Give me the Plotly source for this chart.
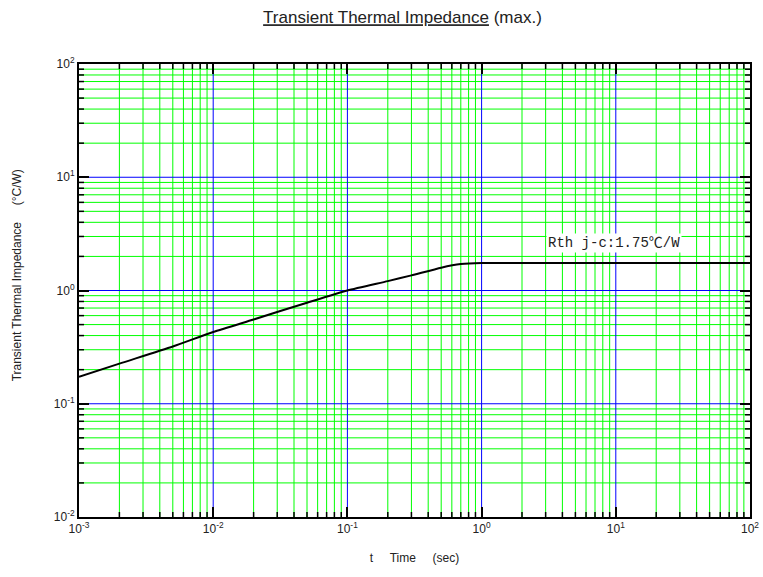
import plotly.graph_objects as go

# Data
t_sec = [0.001, 0.002, 0.005, 0.01, 0.02, 0.05, 0.1, 0.2, 0.3, 0.5, 0.7, 1.0, 2.0, 10.0, 100.0]
zth = [0.173, 0.226, 0.32, 0.43, 0.555, 0.78, 1.0, 1.21, 1.36, 1.59, 1.71, 1.75, 1.75, 1.75, 1.75]

x_tickvals = [1e-3, 1e-2, 1e-1, 1e0, 1e1, 1e2]
x_ticktext = ["10<sup>-3</sup>", "10<sup>-2</sup>", "10<sup>-1</sup>", "10<sup>0</sup>", "10<sup>1</sup>", "10<sup>2</sup>"]
y_tickvals = [1e-2, 1e-1, 1e0, 1e1, 1e2]
y_ticktext = ["10<sup>-2</sup>", "10<sup>-1</sup>", "10<sup>0</sup>", "10<sup>1</sup>", "10<sup>2</sup>"]
minor_mults = [2, 3, 4, 5, 6, 7, 8, 9]
x_minor = [m * d for d in x_tickvals[:-1] for m in minor_mults]
y_minor = [m * d for d in y_tickvals[:-1] for m in minor_mults]

NB = "\u00a0"
title_text = "<u>Transient Thermal Impedance</u> (max.)"
x_title = "t" + NB * 5 + "Time" + NB * 5 + "(sec)"
y_title = "Transient Thermal Impedance" + NB * 5 + "(°C/W)"
rth_label = "Rth j-c:1.75℃/W"

FONT = "Liberation Sans, Arial, sans-serif"
GREEN = "#00ff00"
BLUE = "#0000ff"

fig = go.Figure()
fig.add_trace(go.Scatter(x=t_sec, y=zth, mode="lines",
                         line=dict(color="black", width=2, shape="spline", smoothing=0.6),
                         showlegend=False, hoverinfo="skip"))

base = dict(type="log", automargin=False, zeroline=False, showgrid=False, showline=True,
            linecolor="black", linewidth=2, mirror="ticks", tickcolor="black",
            ticks="inside", ticklen=10, tickwidth=2,
            tickfont=dict(family=FONT, size=12, color="#222"))

fig.update_xaxes(**base, range=[-3, 2], tickmode="array", tickvals=x_tickvals, ticktext=x_ticktext,
                 title=dict(text=x_title, standoff=18, font=dict(family=FONT, size=12, color="#222")))
fig.update_yaxes(**base, range=[-2, 2], tickmode="array", tickvals=y_tickvals, ticktext=y_ticktext)

# y-axis title (placed as rotated text, as in the reference, slightly above the plot centre)
fig.add_annotation(text=y_title, textangle=-90, xref="paper", yref="paper",
                   x=-0.092, y=0.534, xanchor="center", yanchor="middle", showarrow=False,
                   font=dict(family=FONT, size=12, color="#222"))

# grid lines (through the axes' scales), minor = green, decades = blue
for v in x_minor:
    fig.add_shape(type="line", xref="x", yref="paper", x0=v, x1=v, y0=0, y1=1,
                  line=dict(color=GREEN, width=1), layer="below")
for v in y_minor:
    fig.add_shape(type="line", xref="paper", yref="y", x0=0, x1=1, y0=v, y1=v,
                  line=dict(color=GREEN, width=1), layer="below")
for v in x_tickvals[1:-1]:
    fig.add_shape(type="line", xref="x", yref="paper", x0=v, x1=v, y0=0, y1=1,
                  line=dict(color=BLUE, width=1), layer="below")
for v in y_tickvals[1:-1]:
    fig.add_shape(type="line", xref="paper", yref="y", x0=0, x1=1, y0=v, y1=v,
                  line=dict(color=BLUE, width=1), layer="below")

# minor tick marks, inside, on all four sides
for v in x_minor:
    for anchor, d in ((0, 5), (1, -5)):
        fig.add_shape(type="line", xref="x", yref="paper", ysizemode="pixel", yanchor=anchor,
                      x0=v, x1=v, y0=0, y1=d, line=dict(color="black", width=1.5), layer="above")
for v in y_minor:
    for anchor, d in ((0, 5), (1, -5)):
        fig.add_shape(type="line", xref="paper", yref="y", xsizemode="pixel", xanchor=anchor,
                      x0=0, x1=d, y0=v, y1=v, line=dict(color="black", width=1.5), layer="above")

fig.add_annotation(x=0.48, y=0.42, xref="x", yref="y", text=rth_label,
                   xanchor="left", yanchor="middle", showarrow=False,
                   bgcolor="white", borderpad=1,
                   font=dict(family="Liberation Mono, DejaVu Sans Mono, Noto Sans CJK JP", size=14, color="#222"))

fig.update_layout(
    template="none",
    width=763, height=577,
    margin=dict(l=79, r=13, t=64, b=60),
    paper_bgcolor="white", plot_bgcolor="white",
    title=dict(text=title_text, x=0.5275, xanchor="center", y=0.97, yanchor="middle",
               font=dict(family=FONT, size=17, color="#222")),
)

fig.write_html("out.html", config={"displayModeBar": False},
               post_script="document.body.style.margin='0';")
